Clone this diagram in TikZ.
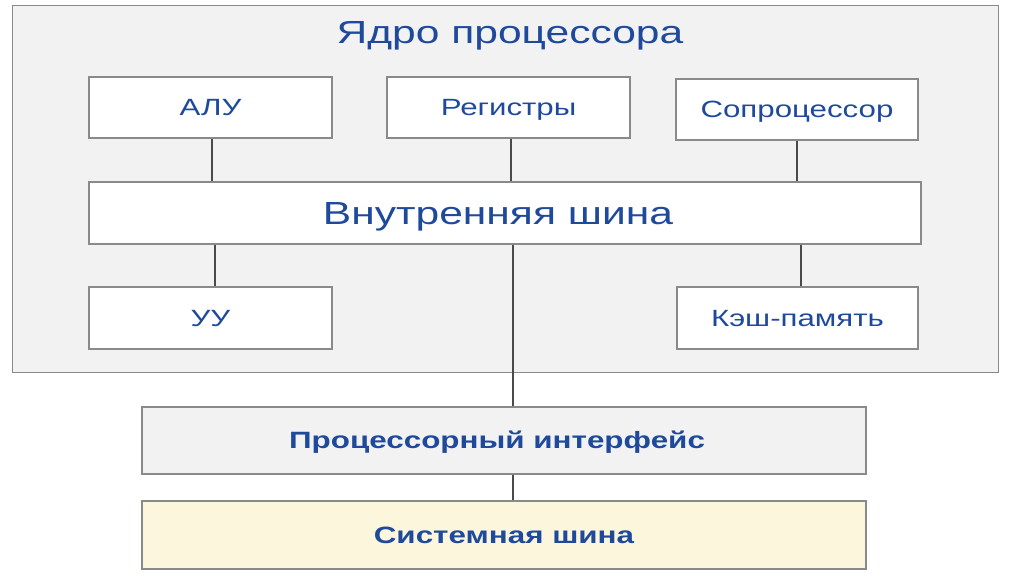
\documentclass[tikz,border=0pt]{standalone}
\usepackage{fontspec}
\setmainfont{Liberation Sans}
\definecolor{txtblue}{HTML}{1F4A9C}
\definecolor{corefill}{HTML}{F2F2F2}
\definecolor{boxline}{HTML}{8A8A8A}
\definecolor{busfill}{HTML}{FBF6DC}
\definecolor{linkcol}{HTML}{4A4A4A}
\newcommand\wtxt[1]{\scalebox{1.33}[1]{#1}}
\begin{document}
\begin{tikzpicture}[x=1pt,y=-1pt,
  box/.style={draw=boxline,line width=1.3pt,fill=white,inner sep=0pt,text=txtblue,text depth=0pt},
  small/.style={font=\fontsize{23.5}{27}\selectfont,text height=16.8pt},
  big/.style={font=\fontsize{32}{36}\selectfont,text height=22.9pt},
  bold/.style={font=\bfseries\fontsize{23.6}{27}\selectfont,text height=16.9pt},
  link/.style={draw=linkcol,line width=2pt}]
\useasboundingbox (0,0) rectangle (1024,576);
\fill[white] (0,0) rectangle (1024,576);
% core
\node[box,fill=corefill,minimum width=986pt,minimum height=367pt,anchor=north west] (core) at (12,5) {};
\node[text=txtblue,big,text depth=0pt,inner sep=0pt] (title) at (510,32) {\wtxt{Ядро процессора}};
% top row
\node[box,minimum width=243pt,minimum height=61pt,small] (alu) at (210.5,107.5) {\wtxt{АЛУ}};
\node[box,minimum width=243pt,minimum height=61pt,small] (reg) at (508.5,107.5) {\wtxt{Регистры}};
\node[box,minimum width=242pt,minimum height=61pt,small] (cop) at (797,109.5) {\wtxt{Сопроцессор}};
% internal bus
\node[box,minimum width=832pt,minimum height=62pt,big] (ibus) at (505,213) {\wtxt{Внутренняя шина}\hspace*{14pt}};
% bottom row
\node[box,minimum width=243pt,minimum height=62pt,small] (cu) at (210.5,318) {\wtxt{УУ}};
\node[box,minimum width=241pt,minimum height=62pt,small] (cache) at (797.5,318) {\wtxt{Кэш-память}};
% interface and system bus
\node[box,fill=corefill,minimum width=724pt,minimum height=67pt,bold] (pif) at (504,440.5) {\wtxt{Процессорный интерфейс}\hspace*{14pt}};
\node[box,fill=busfill,minimum width=724pt,minimum height=68pt,bold] (sbus) at (504,535) {\wtxt{Системная шина}};
% links
\draw[link] (alu.south -| 212,0) -- (ibus.north -| 212,0);
\draw[link] (reg.south -| 511,0) -- (ibus.north -| 511,0);
\draw[link] (cop.south -| 797,0) -- (ibus.north -| 797,0);
\draw[link] (ibus.south -| 215,0) -- (cu.north -| 215,0);
\draw[link] (ibus.south -| 801,0) -- (cache.north -| 801,0);
\draw[link] (ibus.south -| 513,0) -- (pif.north -| 513,0);
\draw[link] (pif.south -| 513,0) -- (sbus.north -| 513,0);
\end{tikzpicture}
\end{document}
